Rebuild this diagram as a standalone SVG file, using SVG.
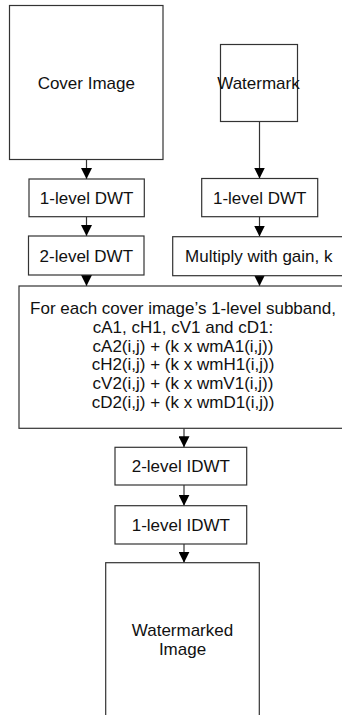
<svg xmlns="http://www.w3.org/2000/svg" width="342" height="715" viewBox="0 0 342 715">
<style>
.box{fill:#fff;stroke:#333;stroke-width:1.2}
.t{font-family:"Liberation Sans",Arial,sans-serif;font-size:17px;fill:#111;text-anchor:middle}
.c{stroke:#333;stroke-width:1.2;fill:none;marker-end:url(#ah)}
</style>
<defs>
<marker id="ah" markerUnits="userSpaceOnUse" markerWidth="11" markerHeight="11" refX="11" refY="5.5" orient="auto">
<path d="M0,0 L11,5.5 L0,11 Z" fill="#000"/>
</marker>
</defs>
<rect width="342" height="715" fill="#fff"/>
<g id="connectors">
<line class="c" x1="86.5" y1="159.5" x2="86.5" y2="179"/>
<line class="c" x1="259.5" y1="121.5" x2="259.5" y2="178.5"/>
<line class="c" x1="86.5" y1="216.7" x2="86.5" y2="236"/>
<line class="c" x1="259.5" y1="216.7" x2="259.5" y2="236.5"/>
<line class="c" x1="86.5" y1="275" x2="86.5" y2="286"/>
<line class="c" x1="259.5" y1="275.7" x2="259.5" y2="286"/>
<line class="c" x1="184" y1="428.3" x2="184" y2="447.3"/>
<line class="c" x1="184" y1="485" x2="184" y2="505.7"/>
<line class="c" x1="184" y1="544" x2="184" y2="562.7"/>
</g>
<g id="cover">
<rect class="box" x="9.5" y="5.5" width="153.5" height="154"/>
<text class="t" x="86.3" y="88.5">Cover Image</text>
</g>
<g id="watermark">
<rect class="box" x="220.5" y="44.5" width="77" height="77"/>
<text class="t" x="258.5" y="88.5">Watermark</text>
</g>
<g id="dwt1-left">
<rect class="box" x="29" y="179" width="115.3" height="37.7"/>
<text class="t" x="86.6" y="204">1-level DWT</text>
</g>
<g id="dwt1-right">
<rect class="box" x="201.7" y="178.5" width="116" height="38.2"/>
<text class="t" x="259.7" y="204">1-level DWT</text>
</g>
<g id="dwt2">
<rect class="box" x="28.5" y="236" width="115.5" height="39"/>
<text class="t" x="86.3" y="261.5">2-level DWT</text>
</g>
<g id="gain">
<rect class="box" x="172.7" y="236.7" width="172.3" height="39"/>
<text class="t" x="258.8" y="261.5">Multiply with gain, k</text>
</g>
<g id="embed">
<rect class="box" x="19" y="286" width="328" height="142.3"/>
<text class="t" x="183" y="314.3">For each cover image’s 1-level subband,</text>
<text class="t" x="183" y="333">cA1, cH1, cV1 and cD1:</text>
<text class="t" x="183" y="351.7">cA2(i,j) + (k x wmA1(i,j))</text>
<text class="t" x="183" y="370.4">cH2(i,j) + (k x wmH1(i,j))</text>
<text class="t" x="183" y="389.1">cV2(i,j) + (k x wmV1(i,j))</text>
<text class="t" x="183" y="407.8">cD2(i,j) + (k x wmD1(i,j))</text>
</g>
<g id="idwt2">
<rect class="box" x="115" y="447.3" width="131.7" height="37.7"/>
<text class="t" x="180.8" y="472.3">2-level IDWT</text>
</g>
<g id="idwt1">
<rect class="box" x="115" y="505.7" width="131.7" height="38.3"/>
<text class="t" x="180.8" y="531">1-level IDWT</text>
</g>
<g id="watermarked">
<rect class="box" x="105.7" y="562.7" width="153.6" height="154"/>
<text class="t" x="182.5" y="635.7">Watermarked</text>
<text class="t" x="182.5" y="655">Image</text>
</g>
</svg>
